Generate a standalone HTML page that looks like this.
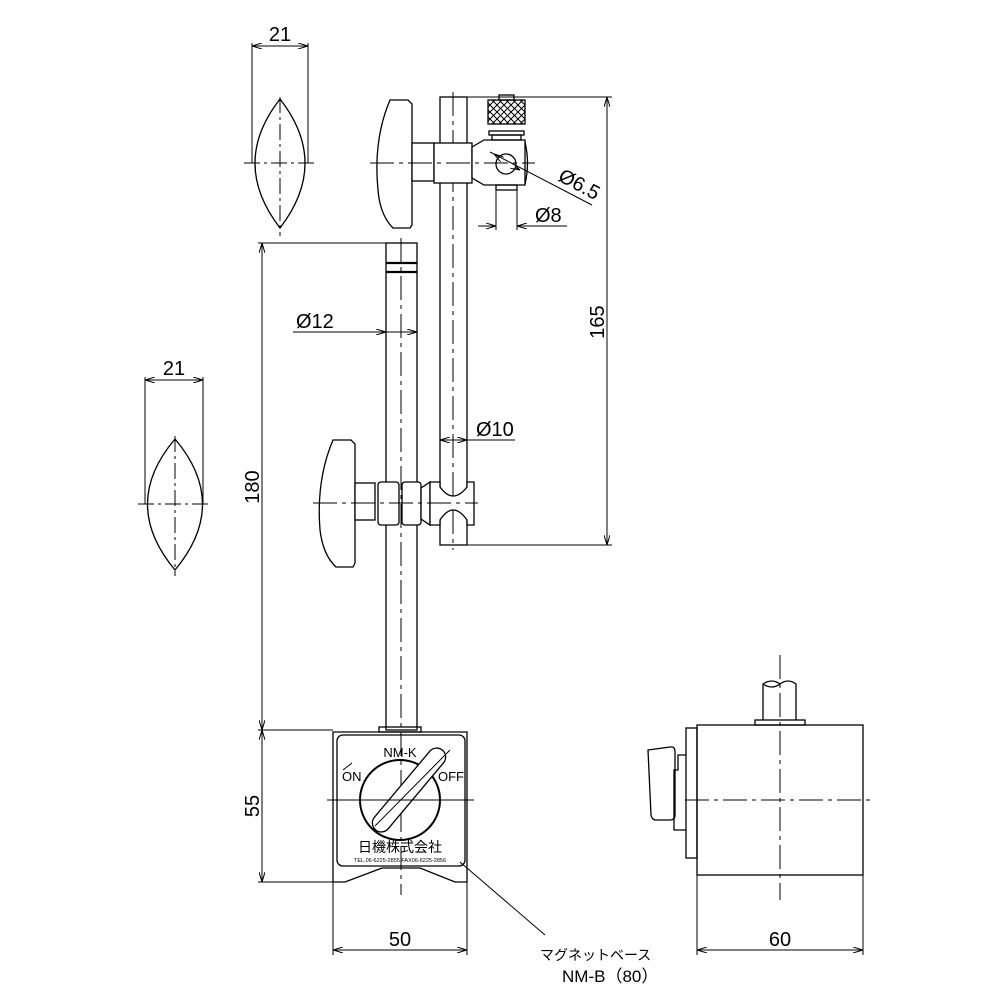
<!DOCTYPE html>
<html><head><meta charset="utf-8"><style>
html,body{margin:0;padding:0;background:#fff}
svg{display:block}
text{font-family:"Liberation Sans","Noto Sans CJK JP",sans-serif;fill:#000}
</style></head><body>
<svg width="1000" height="1000" viewBox="0 0 1000 1000" xmlns="http://www.w3.org/2000/svg">
<defs>
<marker id="a" viewBox="0 0 10 6" refX="10" refY="3" markerWidth="10" markerHeight="6" orient="auto-start-reverse" markerUnits="userSpaceOnUse"><path d="M0,0 L10,3 L0,6" fill="none" stroke="#000" stroke-width="1"/></marker>
<pattern id="k" width="7" height="7" patternUnits="userSpaceOnUse"><path d="M0,0 L7,7 M7,0 L0,7" stroke="#000" stroke-width="1"/></pattern>
</defs>
<g fill="none" stroke="#000" stroke-width="1.3">
<!-- top lens -->
<path d="M280,99 Q230,163 280,228 Q330,163 280,99 Z"/>
<line x1="252" y1="43" x2="252" y2="163" stroke-width="1"/>
<line x1="308" y1="43" x2="308" y2="163" stroke-width="1"/>
<line x1="252" y1="46" x2="308" y2="46" stroke-width="1" marker-start="url(#a)" marker-end="url(#a)"/>
<line x1="244" y1="163" x2="318" y2="163" stroke-dasharray="16,4,3,4" stroke-width="1"/>
<line x1="280" y1="97" x2="280" y2="236" stroke-dasharray="16,4,3,4" stroke-width="1"/>
<!-- mid lens -->
<path d="M175,439 Q120,504 175,570 Q230,504 175,439 Z"/>
<line x1="145" y1="377" x2="145" y2="504" stroke-width="1"/>
<line x1="203" y1="377" x2="203" y2="504" stroke-width="1"/>
<line x1="145" y1="380" x2="203" y2="380" stroke-width="1" marker-start="url(#a)" marker-end="url(#a)"/>
<line x1="138" y1="504" x2="210" y2="504" stroke-dasharray="16,4,3,4" stroke-width="1"/>
<line x1="175" y1="436" x2="175" y2="576" stroke-dasharray="16,4,3,4" stroke-width="1"/>
<!-- main rod -->
<rect x="386" y="243" width="31" height="487"/>
<line x1="386" y1="263" x2="417" y2="263" stroke-width="2.2"/>
<line x1="386" y1="272" x2="417" y2="272" stroke-width="2.2"/>
<line x1="401" y1="238" x2="401" y2="895" stroke-dasharray="24,5,4,5" stroke-width="1"/>
<!-- upper rod -->
<rect x="440" y="97" width="27" height="448"/>
<line x1="453" y1="92" x2="453" y2="550" stroke-dasharray="24,5,4,5" stroke-width="1"/>
<!-- upper clamp -->
<path d="M390,100 Q373,140 378,190 Q380,215 393,228 L410,228 L412,225 L412,104 L408,100 Z" fill="#fff"/>
<rect x="412" y="143" width="22" height="38" fill="#fff"/>
<rect x="434" y="143" width="38" height="40" fill="#fff"/>
<path d="M472,147 L484,140 L525,140 L525,185 L484,185 L472,178 Z" fill="#fff"/>
<path d="M525,142 Q530,163 525,184"/>
<circle cx="506" cy="164" r="10"/>
<rect x="496" y="185" width="21" height="5"/>
<rect x="488" y="100" width="37" height="24" fill="url(#k)"/>
<rect x="499" y="95" width="15" height="5"/>
<rect x="489" y="131" width="35" height="4"/>
<rect x="492" y="135" width="29" height="5"/>
<line x1="370" y1="163" x2="535" y2="163" stroke-dasharray="24,5,4,5" stroke-width="1"/>
<!-- phi 6.5 -->
<line x1="490" y1="152" x2="592" y2="205" stroke-width="1"/>
<line x1="494" y1="154" x2="497" y2="156" marker-start="url(#a)" stroke-width="1"/>
<line x1="520" y1="170" x2="516" y2="168" marker-start="url(#a)" stroke-width="1"/>
<!-- phi 8 -->
<line x1="496" y1="190" x2="496" y2="230" stroke-width="1"/>
<line x1="517" y1="190" x2="517" y2="230" stroke-width="1"/>
<line x1="478" y1="226" x2="496" y2="226" stroke-width="1" marker-end="url(#a)"/>
<line x1="567" y1="226" x2="517" y2="226" stroke-width="1" marker-end="url(#a)"/>
<!-- lower clamp -->
<path d="M333,440 Q316,480 320,530 Q323,555 336,567 L353,567 L355,563 L355,444 L351,440 Z" fill="#fff"/>
<rect x="355" y="483" width="20" height="37" fill="#fff"/>
<rect x="378" y="482" width="21" height="43" rx="3" fill="#fff"/>
<rect x="402" y="482" width="19" height="43" rx="3" fill="#fff"/>
<path d="M421,488 L430,482 L430,525 L421,519 Z" fill="#fff"/>
<path d="M430,482 L440,482 L440,487 Q453,505 467,487 L467,482 L474,482 L474,525 L467,525 L467,520 Q453,500 440,520 L440,525 L430,525 Z" fill="#fff"/>
<line x1="313" y1="503" x2="478" y2="503" stroke-dasharray="24,5,4,5" stroke-width="1"/>
<!-- dims -->
<line x1="258" y1="243" x2="386" y2="243" stroke-width="1"/>
<line x1="262" y1="243" x2="262" y2="730" stroke-width="1" marker-start="url(#a)" marker-end="url(#a)"/>
<line x1="293" y1="332" x2="386" y2="332" stroke-width="1" marker-end="url(#a)"/>
<line x1="386" y1="332" x2="417" y2="332" stroke-width="1" marker-end="url(#a)"/>
<line x1="440" y1="440" x2="515" y2="440" stroke-width="1" marker-start="url(#a)"/>
<line x1="467" y1="440" x2="440" y2="440" stroke-width="1" marker-start="url(#a)"/>
<line x1="467" y1="97" x2="612" y2="97" stroke-width="1"/>
<line x1="467" y1="545" x2="612" y2="545" stroke-width="1"/>
<line x1="607" y1="97" x2="607" y2="545" stroke-width="1" marker-start="url(#a)" marker-end="url(#a)"/>
<!-- base -->
<rect x="379" y="727" width="42" height="5"/>
<path d="M333,732 L467,732 L467,882 L455,882 L420,868 L382,868 L345,882 L333,882 Z"/>
<line x1="333" y1="882" x2="333" y2="955" stroke-width="1"/>
<line x1="467" y1="882" x2="467" y2="955" stroke-width="1"/>
<rect x="337" y="735" width="128" height="131" rx="6"/>
<circle cx="400" cy="800" r="40" stroke-width="2"/>
<g transform="rotate(-50 409 790)"><rect x="357" y="781" width="104" height="18" rx="9" fill="#fff"/></g>
<line x1="375" y1="826" x2="450" y2="750" stroke-width="1"/>
<line x1="343" y1="770" x2="352" y2="763" stroke-width="1"/>
<line x1="327" y1="800" x2="474" y2="800" stroke-width="1"/>
<line x1="258" y1="730" x2="333" y2="730" stroke-width="1"/>
<line x1="258" y1="882" x2="333" y2="882" stroke-width="1"/>
<line x1="262" y1="730" x2="262" y2="882" stroke-width="1" marker-start="url(#a)" marker-end="url(#a)"/>
<line x1="333" y1="950" x2="467" y2="950" stroke-width="1" marker-start="url(#a)" marker-end="url(#a)"/>
<line x1="460" y1="862" x2="545" y2="935" stroke-width="1"/>
<!-- side view -->
<rect x="697" y="725" width="166" height="150"/>
<rect x="755" y="720" width="50" height="5"/>
<path d="M763,720 L763,684 Q772,678 780,684 Q788,678 796,684 L796,720"/>
<path d="M763,684 Q772,690 780,684"/>
<rect x="686" y="728" width="11" height="130"/>
<path d="M686,755 L678,755 L678,770 L674,770 L674,830 L686,830"/>
<path d="M648,750 L670,747 Q675,746 675,752 L675,815 Q675,820 670,820 L656,820 Q652,820 651,815 Z"/>
<line x1="780" y1="655" x2="780" y2="900" stroke-dasharray="24,5,4,5" stroke-width="1"/>
<line x1="685" y1="800" x2="870" y2="800" stroke-dasharray="24,5,4,5" stroke-width="1"/>
<line x1="697" y1="875" x2="697" y2="955" stroke-width="1"/>
<line x1="863" y1="875" x2="863" y2="955" stroke-width="1"/>
<line x1="697" y1="950" x2="863" y2="950" stroke-width="1" marker-start="url(#a)" marker-end="url(#a)"/>
</g>
<g font-size="20">
<text x="280" y="41" text-anchor="middle">21</text>
<text x="174" y="375" text-anchor="middle">21</text>
<text x="296" y="328">Ø12</text>
<text x="476" y="436">Ø10</text>
<text x="535" y="222">Ø8</text>
<text x="0" y="0" transform="translate(557,180) rotate(28)">Ø6.5</text>
<text x="0" y="0" transform="translate(604,322) rotate(-90)" text-anchor="middle">165</text>
<text x="0" y="0" transform="translate(259,487) rotate(-90)" text-anchor="middle">180</text>
<text x="0" y="0" transform="translate(259,806) rotate(-90)" text-anchor="middle">55</text>
<text x="400" y="946" text-anchor="middle">50</text>
<text x="780" y="946" text-anchor="middle">60</text>
</g>
<g font-size="13">
<text x="400" y="757" text-anchor="middle">NM-K</text>
<text x="342" y="781">ON</text>
<text x="438" y="781">OFF</text>
<text x="400" y="852" text-anchor="middle" font-size="14">日機株式会社</text>
<text x="400" y="862" text-anchor="middle" font-size="5.5">TEL.06-6225-2855  FAX06-6225-2856</text>
</g>
<text x="540" y="960" font-size="14">マグネットベース</text>
<text x="562" y="982" font-size="17">NM-B（80）</text>
</svg>
</body></html>
